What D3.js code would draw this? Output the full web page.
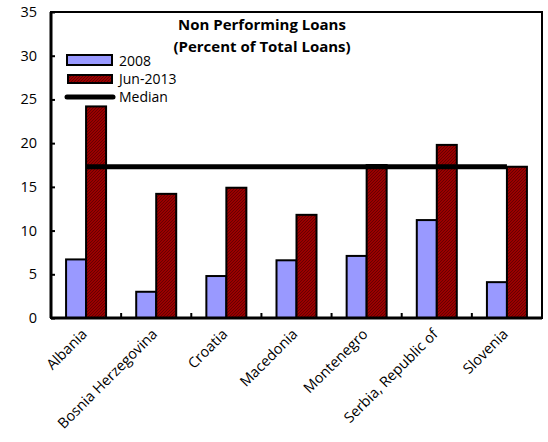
<!DOCTYPE html>
<html>
<head>
<meta charset="utf-8">
<script src="https://cdn.jsdelivr.net/npm/d3@7"></script>
<style>
 body { margin: 0; background: #fff; }
 text { font-family: "Open Sans", "Noto Sans", sans-serif; }
</style>
</head>
<body>
<div id="plot"></div>
<script>
const categories = ['Albania', 'Bosnia Herzegovina', 'Croatia', 'Macedonia', 'Montenegro', 'Serbia, Republic of', 'Slovenia'];
const values2008 = [6.7, 3.0, 4.8, 6.6, 7.1, 11.2, 4.1];
const valuesJun2013 = [24.2, 14.2, 14.9, 11.8, 17.5, 19.8, 17.3];
const median = 17.3;
const yTicks = [0, 5, 10, 15, 20, 25, 30, 35];
const seriesNames = ['2008', 'Jun-2013', 'Median'];

let width = 548, height = 442;
let mLeft = 51, mRight = 542, mTop = 12, mBottom = 318;

let svg = d3.select('#plot').append('svg').attr('width', width).attr('height', height);

let defs = svg.append('defs');
let pat = defs.append('pattern').attr('id', 'hatch').attr('patternUnits', 'userSpaceOnUse')
  .attr('width', 3).attr('height', 3);
pat.append('rect').attr('width', 3).attr('height', 3).attr('fill', '#990000');
pat.append('path').attr('d', 'M0,3 L3,0').attr('stroke', '#5a0000').attr('stroke-width', 0.8);

let x = d3.scaleBand().domain(categories).range([mLeft, mRight]);
let y = d3.scaleLinear().domain([0, 35]).range([mBottom, mTop]);
let barW = 20;

let g = svg.append('g');

// bars
g.selectAll('.b1').data(categories).enter().append('rect')
  .attr('x', d => x(d) + x.bandwidth() / 2 - barW)
  .attr('y', (d, i) => y(values2008[i]))
  .attr('width', barW)
  .attr('height', (d, i) => y(0) - y(values2008[i]))
  .attr('fill', '#9999ff').attr('stroke', '#000').attr('stroke-width', 2);

g.selectAll('.b2').data(categories).enter().append('rect')
  .attr('x', d => x(d) + x.bandwidth() / 2)
  .attr('y', (d, i) => y(valuesJun2013[i]))
  .attr('width', barW)
  .attr('height', (d, i) => y(0) - y(valuesJun2013[i]))
  .attr('fill', 'url(#hatch)').attr('stroke', '#000').attr('stroke-width', 2);

// median line
g.append('line')
  .attr('x1', x(categories[0]) + x.bandwidth() / 2)
  .attr('x2', x(categories[categories.length - 1]) + x.bandwidth() / 2)
  .attr('y1', y(median)).attr('y2', y(median))
  .attr('stroke', '#000').attr('stroke-width', 5);

// frame
g.append('rect').attr('x', mLeft).attr('y', mTop).attr('width', mRight - mLeft).attr('height', mBottom - mTop)
  .attr('fill', 'none').attr('stroke', '#000').attr('stroke-width', 2);
g.append('line').attr('x1', mLeft).attr('x2', mLeft).attr('y1', mTop).attr('y2', mBottom)
  .attr('stroke', '#000').attr('stroke-width', 3);
g.append('line').attr('x1', mLeft).attr('x2', mRight).attr('y1', mBottom).attr('y2', mBottom)
  .attr('stroke', '#000').attr('stroke-width', 3);

// y axis
let yAxis = g.append('g').attr('transform', `translate(${mLeft},0)`)
  .call(d3.axisRight(y).tickValues(yTicks).tickSize(4).tickFormat(''));
yAxis.select('.domain').remove();
yAxis.selectAll('line').attr('stroke', '#000').attr('stroke-width', 2);
g.selectAll('.ylab').data(yTicks).enter().append('text')
  .attr('x', 37).attr('y', d => y(d) + 5)
  .attr('text-anchor', 'end').style('font-size', '14.5px').text(d => d);

// x ticks between categories
let seps = categories.slice(1).map(d => x(d));
g.selectAll('.xt').data(seps).enter().append('line')
  .attr('x1', d => d).attr('x2', d => d).attr('y1', mBottom).attr('y2', mBottom - 5)
  .attr('stroke', '#000').attr('stroke-width', 2);

// x labels
g.selectAll('.xlab').data(categories).enter().append('text')
  .attr('transform', d => `translate(${x(d) + x.bandwidth() / 2 + 2},${mBottom + 17}) rotate(-45)`)
  .attr('text-anchor', 'end').style('font-size', '14.5px').text(d => d);

// title
let title = svg.append('text').attr('x', 262).attr('text-anchor', 'middle')
  .style('font-size', '15px').style('font-weight', 'bold');
title.append('tspan').attr('x', 262).attr('y', 30).text('Non Performing Loans');
title.append('tspan').attr('x', 262).attr('y', 52).text('(Percent of Total Loans)');

// legend
let lg = svg.append('g');
lg.append('rect').attr('x', 67).attr('y', 55).attr('width', 45).attr('height', 10)
  .attr('fill', '#9999ff').attr('stroke', '#000').attr('stroke-width', 2);
lg.append('rect').attr('x', 68).attr('y', 75).attr('width', 44).attr('height', 8)
  .attr('fill', 'url(#hatch)').attr('stroke', '#000').attr('stroke-width', 2);
lg.append('line').attr('x1', 67).attr('x2', 113).attr('y1', 97).attr('y2', 97)
  .attr('stroke', '#000').attr('stroke-width', 5).attr('stroke-linecap', 'round');
lg.selectAll('.lt').data(seriesNames).enter().append('text')
  .attr('x', 119).attr('y', (d, i) => 66 + i * 18)
  .style('font-size', '14px').text(d => d);
</script>
</body>
</html>
